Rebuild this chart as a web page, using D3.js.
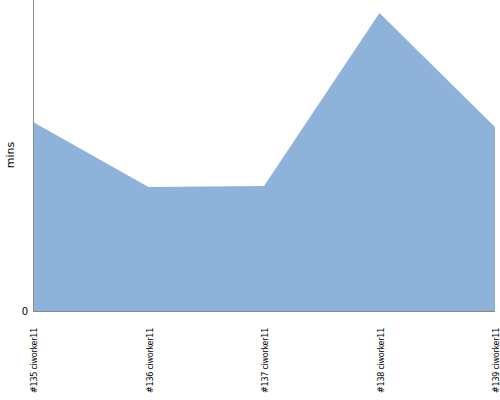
<!DOCTYPE html>
<html><head><meta charset="utf-8">
<script src="https://cdn.jsdelivr.net/npm/d3@7"></script>
<style>body{margin:0;background:#fff}svg{display:block}</style>
</head><body>
<svg id="c" width="500" height="400"></svg>
<script>
const categories = ["#135 ciworker11","#136 ciworker11","#137 ciworker11","#138 ciworker11","#139 ciworker11"];
const values = [60.8, 39.9, 40.2, 95.8, 59.2];
const yTicks = [0];

const svg = d3.select("#c");
const m = {l:33, r:5, t:0, b:89};
const W = 500, H = 400;
const x = d3.scalePoint().domain(categories).range([m.l, W - m.r]);
const y = d3.scaleLinear().domain([0, 100]).range([H - m.b, m.t]);

const area = d3.area().x((d,i)=>x(categories[i])).y0(y(0)).y1(d=>y(d));
svg.append("path").datum(values).attr("d", area).attr("fill", "#8fb2db");

// y axis line
svg.append("line").attr("x1", m.l+0.5).attr("x2", m.l+0.5).attr("y1", m.t).attr("y2", y(0))
  .attr("stroke", "#888").attr("stroke-width", 1);
// baseline
svg.append("line").attr("x1", m.l).attr("x2", W - m.r).attr("y1", y(0)+0.5).attr("y2", y(0)+0.5)
  .attr("stroke", "#888").attr("stroke-width", 1);

svg.selectAll(".yt").data(yTicks).enter().append("text")
  .attr("x", m.l - 5).attr("y", d=>y(d)).attr("dy", "0.35em")
  .attr("text-anchor", "end").attr("font-family", "DejaVu Sans").attr("font-size", 10)
  .text(d=>d);

svg.selectAll(".xt").data(categories).enter().append("text")
  .attr("transform", d=>`translate(${x(d)+4},${y(0)+17}) rotate(-90)`)
  .attr("text-anchor", "end").attr("font-family", "DejaVu Sans Condensed").attr("font-size", 9)
  .attr("letter-spacing", -0.3)
  .text(d=>d);

svg.append("text").attr("transform", `translate(14,155) rotate(-90)`)
  .attr("text-anchor", "middle").attr("font-family", "DejaVu Sans").attr("font-size", 11)
  .text("mins");
</script>
</body></html>
